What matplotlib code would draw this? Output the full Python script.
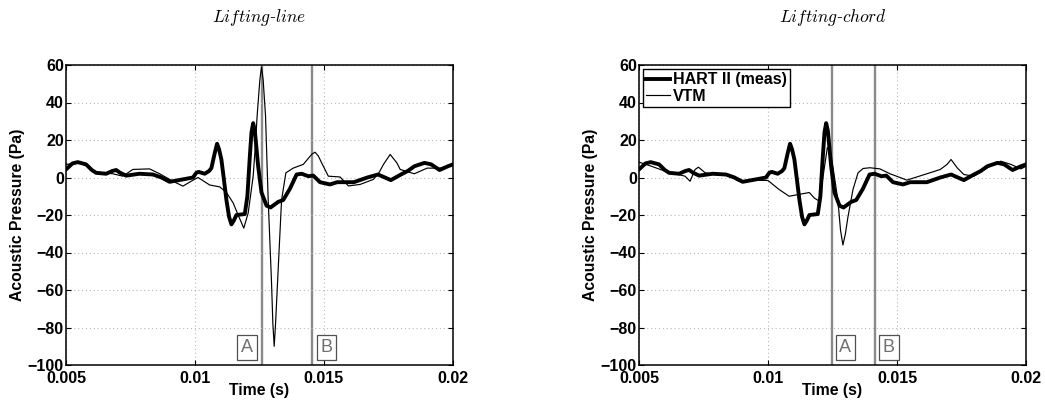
import matplotlib
matplotlib.use("Agg")
import matplotlib.pyplot as plt

plt.rcParams["font.family"] = ["Liberation Sans", "DejaVu Sans"]
plt.rcParams["mathtext.fontset"] = "cm"

# HART II measured acoustic pressure (same trace on both panels)
meas_t = [0.005, 0.005250, 0.005453, 0.005777, 0.006000, 0.006166, 0.006554, 0.006800,
          0.006943, 0.007100, 0.007332, 0.007850, 0.008368, 0.008700, 0.009016, 0.009534,
          0.009922, 0.010050, 0.010142, 0.010376, 0.010550, 0.010635, 0.010764, 0.010855,
          0.010933, 0.011023, 0.011120, 0.011218, 0.011321, 0.011412, 0.011503, 0.011606,
          0.011930, 0.012030, 0.012124, 0.012189, 0.012254, 0.012319, 0.012448, 0.012578,
          0.012772, 0.012927, 0.013225, 0.013420, 0.013679, 0.013938, 0.014132, 0.014391,
          0.014585, 0.014845, 0.015233, 0.015508, 0.016159, 0.016680, 0.017096, 0.017591,
          0.017982, 0.018250, 0.018503, 0.018893, 0.019154, 0.019479, 0.019805, 0.020]
meas_p = [4.3, 7.5, 8.2, 7.0, 4.0, 2.5, 2.0, 3.5,
          4.0, 2.5, 1.0, 2.0, 1.6, 0.0, -2.3, -1.0,
          0.0, 2.5, 3.0, 2.0, 3.5, 5.0, 13.0, 18.0,
          15.0, 9.6, -1.0, -12.0, -21.0, -25.0, -23.0, -20.0,
          -19.5, -10.0, 11.0, 24.0, 29.0, 25.0, 6.0, -8.0,
          -15.0, -16.0, -13.0, -12.0, -6.0, 1.6, 2.0, 0.7,
          1.0, -2.5, -3.7, -2.5, -2.5, 0.0, 1.6, -1.4,
          1.6, 3.5, 6.0, 7.8, 7.0, 4.0, 6.0, 7.0]

# VTM, lifting-line blade model
vtm_line_t = [0.005, 0.005518, 0.005850, 0.006166, 0.006813, 0.007202, 0.007591, 0.008238,
              0.008627, 0.009145, 0.009534, 0.009850, 0.010117, 0.010570, 0.010959, 0.011218,
              0.011477, 0.011671, 0.011891, 0.012060, 0.012160, 0.012254, 0.012330, 0.012409,
              0.012513, 0.012578, 0.012642, 0.012733, 0.012837, 0.012966, 0.013018, 0.013070,
              0.013122, 0.013199, 0.013355, 0.013523, 0.013808, 0.014197, 0.014521, 0.014650,
              0.014780, 0.014909, 0.015168, 0.015622, 0.015946, 0.016399, 0.016917, 0.017150,
              0.017306, 0.017565, 0.017824, 0.017953, 0.018500, 0.019000, 0.019500, 0.020]
vtm_line_p = [7.0, 7.8, 6.0, 2.9, 2.0, 0.7, 4.3, 4.6,
              2.0, -2.0, -4.6, -2.0, 0.0, -4.0, -5.0, -8.0,
              -13.5, -20.0, -27.0, -19.0, -9.0, 0.7, 15.0, 33.0,
              52.0, 59.0, 52.0, 33.0, -12.0, -56.0, -78.0, -90.0,
              -78.0, -56.0, -12.0, 2.5, 5.0, 7.0, 12.3, 13.5,
              11.5, 7.8, 0.7, 0.3, -4.5, -3.7, -1.0, 3.0,
              7.0, 12.3, 7.8, 4.3, 2.0, 5.0, 5.0, 7.0]

# VTM, lifting-chord blade model
vtm_chord_t = [0.005, 0.005482, 0.006003, 0.006523, 0.006784, 0.006979, 0.007174, 0.007305,
               0.007565, 0.007956, 0.008346, 0.008867, 0.009388, 0.010000, 0.010430, 0.010820,
               0.011211, 0.011602, 0.011797, 0.011992, 0.012150, 0.012300, 0.012400, 0.012513,
               0.012708, 0.012810, 0.012904, 0.013000, 0.013099, 0.013294, 0.013490, 0.013685,
               0.013945, 0.014336, 0.014727, 0.015117, 0.015378, 0.015703, 0.016159, 0.016680,
               0.016940, 0.017096, 0.017331, 0.017591, 0.017982, 0.018503, 0.019023, 0.019414,
               0.019805, 0.020]
vtm_chord_p = [8.2, 6.0, 3.4, 1.6, 0.7, -2.0, 4.3, 5.5,
               2.5, 1.6, 2.0, -2.0, -1.4, -1.6, -6.4, -10.0,
               -9.0, -8.0, -11.0, -12.6, 2.0, 16.0, 14.0, 6.0,
               -12.0, -28.0, -36.0, -30.0, -21.0, -6.4, 2.5, 4.8,
               5.2, 4.6, 2.0, 0.0, -1.4, 0.0, 2.0, 4.3,
               7.0, 9.6, 5.2, 1.6, 0.7, 5.2, 8.7, 7.0,
               4.6, 6.0]

panel_titles = ["Lifting-line", "Lifting-chord"]
marker_times = [(0.012585, 0.014547), (0.012480, 0.014135)]
marker_names = ["A", "B"]
# horizontal offset (points) of each A/B tag from its line
tag_offsets = [(-10.6, 10.0), (9.7, 10.3)]

xticks = [0.005, 0.01, 0.015, 0.02]
xticklabels = ["0.005", "0.01", "0.015", "0.02"]
yticks = [-100, -80, -60, -40, -20, 0, 20, 40, 60]
yticklabels = ["\u2212100", "\u221280", "\u221260", "\u221240", "\u221220", "0", "20", "40", "60"]

fig = plt.figure(figsize=(10.45, 4.07), dpi=100)
W, H = 1045.0, 407.0
axes = [fig.add_axes([66 / W, 42 / H, 387 / W, 300 / H]),
        fig.add_axes([639 / W, 42 / H, 387 / W, 300 / H])]

vtm_series = [(vtm_line_t, vtm_line_p), (vtm_chord_t, vtm_chord_p)]

for i, ax in enumerate(axes):
    vt, vp = vtm_series[i]
    for tm in marker_times[i]:
        ax.axvline(tm, color="#8a8a8a", lw=1.7, zorder=1)
    ax.plot(meas_t, meas_p, color="black", lw=2.8, label="HART II (meas)", zorder=3,
            solid_joinstyle="round")
    ax.plot(vt, vp, color="black", lw=0.85, label="VTM", zorder=4)

    for tm, name, dx in zip(marker_times[i], marker_names, tag_offsets[i]):
        ax.annotate(name, xy=(tm, -90.7), xytext=(dx, 0), textcoords="offset points",
                    ha="center", va="center", fontsize=13, color="#707070",
                    fontfamily="Liberation Sans",
                    bbox=dict(boxstyle="square,pad=0.2", fc="white", ec="#505050", lw=0.9),
                    zorder=5)

    ax.set_xlim(0.005, 0.02)
    ax.set_ylim(-100, 60)
    ax.set_xticks(xticks)
    ax.set_xticklabels(xticklabels, fontweight="bold", fontsize=11.5)
    ax.set_yticks(yticks)
    ax.set_yticklabels(yticklabels, fontweight="bold", fontsize=11.5)
    ax.tick_params(direction="in", length=3.5, width=0.8, top=True, right=True)
    ax.tick_params(axis="x", pad=4.5)
    ax.tick_params(axis="y", pad=1.5)
    ax.grid(True, linestyle=(0, (1, 2.5)), color="#b8b8b8", lw=0.8)
    for sp in ax.spines.values():
        sp.set_linewidth(1.1)
    ax.set_xlabel("Time (s)", fontweight="bold", fontsize=11.3, labelpad=-2.5)
    ax.set_ylabel("Acoustic Pressure (Pa)", fontweight="bold", fontsize=11.3, labelpad=2)

    name = panel_titles[i].split("-")
    ax.set_title(r"$\mathit{%s}$-$\mathit{%s}$" % (name[0], name[1]),
                 fontsize=12.5, fontfamily="DejaVu Serif", pad=31)

leg = axes[1].legend(loc="upper left", prop={"weight": "bold", "size": 11.5},
                     handlelength=1.5, handletextpad=0.2, borderpad=0.2, labelspacing=0.1,
                     borderaxespad=0.25, fancybox=False, framealpha=1, edgecolor="black")
leg.get_frame().set_linewidth(1.0)

fig.savefig("out.png", dpi=100)
